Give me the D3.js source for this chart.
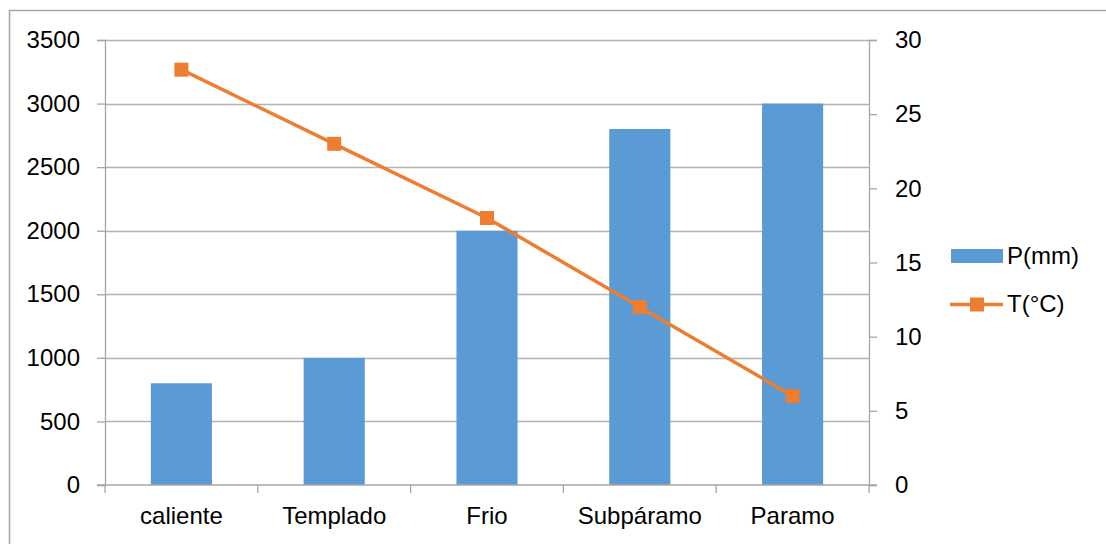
<!DOCTYPE html>
<html><head><meta charset="utf-8">
<script src="https://cdn.jsdelivr.net/npm/d3@7"></script>
<style>body{margin:0;background:#fff}svg{display:block}text{font-family:"Liberation Sans",Arial,sans-serif;fill:#000}</style>
</head><body><svg id="c" width="1106" height="544"></svg>
<script>
const categories = ["caliente","Templado","Frio","Subpáramo","Paramo"];
const precip = [800,1000,2000,2800,3000];
const temp = [28,23,18,12,6];
const leftTicks = [0,500,1000,1500,2000,2500,3000,3500];
const rightTicks = [0,5,10,15,20,25,30];
const seriesNames = ["P(mm)","T(°C)"];

const svg = d3.select("#c");
const W=1106,H=544;
const m={l:105,t:40};
const fs=24;
const gray="#a6a6a6";

svg.append("rect").attr("x",9.5).attr("y",10.5).attr("width",W).attr("height",H).attr("fill","none").attr("stroke",gray).attr("stroke-width",1.5);

const x=d3.scaleBand().domain(categories).range([m.l,869]).padding(0);
const yL=d3.scaleLinear().domain([0,3500]).range([485,40]);
const yR=d3.scaleLinear().domain([0,30]).range([485,40]);

// gridlines
svg.append("g").selectAll("line").data(leftTicks.filter(d=>d>0)).join("line")
 .attr("x1",m.l).attr("x2",869).attr("y1",d=>Math.round(yL(d))+0.5).attr("y2",d=>Math.round(yL(d))+0.5)
 .attr("stroke","#b3b3b3").attr("stroke-width",1.3);

// bars
const bw=x.bandwidth()*0.4;
svg.append("g").selectAll("rect").data(categories).join("rect")
 .attr("x",(d)=>x(d)+x.bandwidth()/2-bw/2).attr("width",bw)
 .attr("y",(d,i)=>yL(precip[i])).attr("height",(d,i)=>yL(0)-yL(precip[i]))
 .attr("fill","#5b9bd5");

// axes
const axL=svg.append("g").attr("transform",`translate(${m.l},0)`).call(d3.axisLeft(yL).tickValues(leftTicks).tickFormat(d3.format("d")).tickSize(8).tickPadding(17));
const axR=svg.append("g").attr("transform",`translate(869,0)`).call(d3.axisRight(yR).tickValues(rightTicks).tickFormat(d3.format("d")).tickSize(8).tickPadding(18));
const axB=svg.append("g").attr("transform",`translate(0,485)`).call(d3.axisBottom(x).tickSize(0).tickPadding(22));
[axL,axR,axB].forEach(a=>{a.attr("font-size",fs).attr("font-family",'"Liberation Sans",Arial,sans-serif');a.selectAll("path,line").attr("stroke",gray).attr("stroke-width",1.3);a.selectAll("text").attr("font-size",fs).attr("fill","#000");});
axB.select(".domain").remove();
svg.append("line").attr("x1",m.l-8).attr("x2",877).attr("y1",485).attr("y2",485).attr("stroke",gray).attr("stroke-width",1.3);
// category boundary ticks
const bounds=categories.map(d=>x(d)).concat([869]);
svg.append("g").selectAll("line").data(bounds).join("line")
 .attr("x1",d=>d).attr("x2",d=>d).attr("y1",485).attr("y2",493).attr("stroke",gray).attr("stroke-width",1.3);
axB.selectAll("text").attr("dy","0.71em");

// line
const cx=d=>x(d)+x.bandwidth()/2;
const line=d3.line().x((d,i)=>cx(categories[i])).y(d=>yR(d));
svg.append("path").datum(temp).attr("d",line).attr("fill","none").attr("stroke","#ed7d31").attr("stroke-width",3.5);
const ms=14;
svg.append("g").selectAll("rect").data(temp).join("rect")
 .attr("x",(d,i)=>cx(categories[i])-ms/2).attr("y",d=>yR(d)-ms/2).attr("width",ms).attr("height",ms).attr("fill","#ed7d31");

// legend
const lg=svg.append("g");
lg.append("rect").attr("x",951).attr("y",249).attr("width",52).attr("height",14).attr("fill","#5b9bd5");
lg.append("text").attr("x",1007).attr("y",256).attr("dy","0.35em").attr("font-size",fs).text(seriesNames[0]);
lg.append("line").attr("x1",950).attr("x2",1003).attr("y1",304.5).attr("y2",304.5).attr("stroke","#ed7d31").attr("stroke-width",3.5);
lg.append("rect").attr("x",977-ms/2).attr("y",304.5-ms/2).attr("width",ms).attr("height",ms).attr("fill","#ed7d31");
lg.append("text").attr("x",1007).attr("y",304).attr("dy","0.35em").attr("font-size",fs).text(seriesNames[1]);
</script></body></html>
